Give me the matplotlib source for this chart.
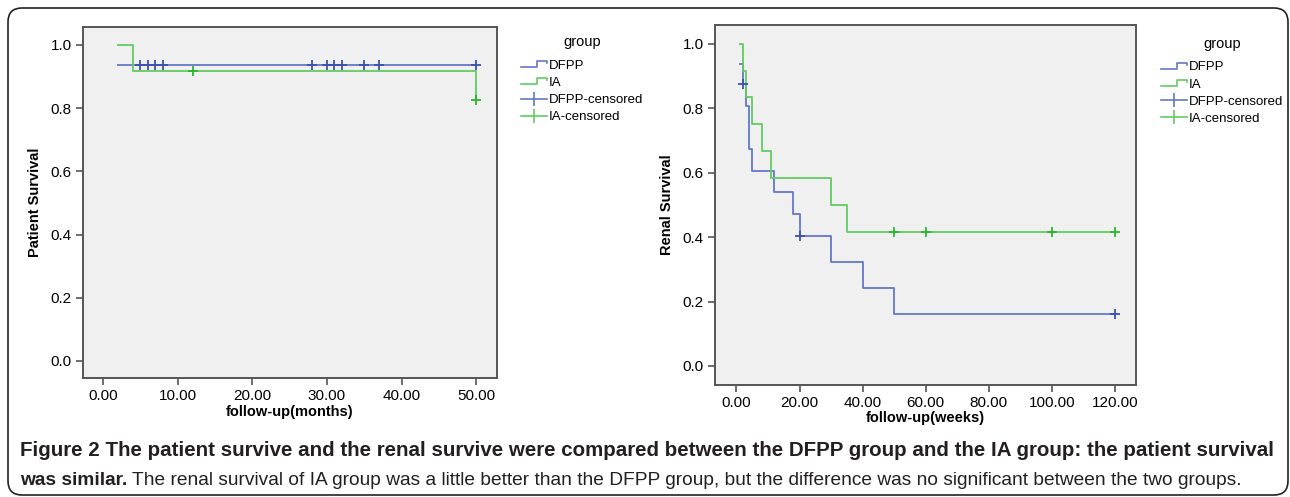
import matplotlib
matplotlib.use("Agg")
import matplotlib.pyplot as plt
from matplotlib.legend_handler import HandlerBase
from matplotlib.lines import Line2D
from matplotlib.patches import FancyBboxPatch

plt.rcParams['font.family'] = ['Liberation Sans', 'DejaVu Sans']

# patient survival (months)
dfpp_pt_t = [2, 50]
dfpp_pt_s = [0.9375, 0.9375]
dfpp_pt_cens_t = [5, 6, 7, 8, 28, 30, 31, 32, 35, 37, 50]
dfpp_pt_cens_s = [0.9375] * 11
ia_pt_t = [2, 4, 50]
ia_pt_s = [1.0, 0.9167, 0.825]
ia_pt_cens_t = [12, 50]
ia_pt_cens_s = [0.9167, 0.825]

# renal survival (weeks)
dfpp_r_t = [1, 2, 3, 4, 5, 12, 18, 20, 30, 40, 50, 120]
dfpp_r_s = [0.9375, 0.875, 0.8077, 0.6731, 0.6058, 0.5385, 0.4712, 0.4039,
            0.3231, 0.2423, 0.1616, 0.1616]
dfpp_r_cens_t = [2, 20, 120]
dfpp_r_cens_s = [0.875, 0.4039, 0.1616]
ia_r_t = [1, 2, 3, 5, 8, 11, 30, 35, 120]
ia_r_s = [1.0, 0.9167, 0.8333, 0.75, 0.6667, 0.5833, 0.5, 0.4167, 0.4167]
ia_r_cens_t = [50, 60, 100, 120]
ia_r_cens_s = [0.4167] * 4

blue = '#6478c6'
green = '#62cc62'
blue_m = '#3c52ad'
green_m = '#2db42d'


class StepHandler(HandlerBase):
    # little step glyph like the SPSS legend
    def create_artists(self, legend, orig_handle, xdescent, ydescent,
                       width, height, fontsize, trans):
        lo = height * 0.2
        hi = height * 0.85
        mid = height * 0.6
        xs = [0, width * 0.6, width * 0.6, width, width]
        ys = [lo, lo, hi, hi, mid]
        ln = Line2D(xs, ys, color=orig_handle.get_color(), lw=1.2, transform=trans)
        return [ln]


def km_panel(ax, d_t, d_s, dc_t, dc_s, i_t, i_s, ic_t, ic_s, leg_y):
    ax.set_facecolor('#f0f0f0')
    d_line, = ax.step(d_t, d_s, where='post', color=blue, lw=1.3)
    i_line, = ax.step(i_t, i_s, where='post', color=green, lw=1.3)
    ax.plot(dc_t, dc_s, ls='none', marker='+', ms=7, mew=1.3, color=blue_m)
    ax.plot(ic_t, ic_s, ls='none', marker='+', ms=7, mew=1.3, color=green_m)
    for s in ax.spines.values():
        s.set_color('#555555')
        s.set_linewidth(1.4)
    ax.tick_params(direction='out', length=5, width=1.2, color='#555555',
                   labelsize=11, pad=3)
    h_dc = Line2D([], [], color=blue, lw=1.2, marker='|', ms=10, mew=1.2)
    h_ic = Line2D([], [], color=green, lw=1.2, marker='|', ms=10, mew=1.2)
    leg = ax.legend([d_line, i_line, h_dc, h_ic],
                    ['DFPP', 'IA', 'DFPP-censored', 'IA-censored'],
                    handler_map={d_line: StepHandler(), i_line: StepHandler()},
                    loc='upper left', bbox_to_anchor=(1.045, leg_y), frameon=False,
                    title='group', fontsize=9.5, title_fontsize=10.5,
                    handlelength=2.0, handletextpad=0.1, labelspacing=0.38,
                    borderaxespad=0)
    leg._legend_box.align = 'center'
    leg._legend_box.sep = 7.2  # a bit more room under the title
    return ax


fig = plt.figure(figsize=(12.9, 4.97), dpi=100)

ax1 = fig.add_axes([0.0643, 0.2394, 0.321, 0.7063])
km_panel(ax1, dfpp_pt_t, dfpp_pt_s, dfpp_pt_cens_t, dfpp_pt_cens_s,
         ia_pt_t, ia_pt_s, ia_pt_cens_t, ia_pt_cens_s, 0.991)
ax1.set_xlim(-2.68, 52.8)
ax1.set_ylim(-0.054, 1.057)
ax1.set_xticks([0, 10, 20, 30, 40, 50])
ax1.set_xticklabels(['0.00', '10.00', '20.00', '30.00', '40.00', '50.00'])
ax1.set_yticks([0, 0.2, 0.4, 0.6, 0.8, 1.0])
ax1.set_yticklabels(['0.0', '0.2', '0.4', '0.6', '0.8', '1.0'])
ax1.set_xlabel('follow-up(months)', fontsize=10.5, fontweight='bold', labelpad=1)
ax1.set_ylabel('Patient Survival', fontsize=10.5, fontweight='bold', labelpad=6)

ax2 = fig.add_axes([0.5543, 0.2254, 0.3267, 0.7243])
km_panel(ax2, dfpp_r_t, dfpp_r_s, dfpp_r_cens_t, dfpp_r_cens_s,
         ia_r_t, ia_r_s, ia_r_cens_t, ia_r_cens_s, 0.981)
ax2.set_xlim(-6.8, 126.8)
ax2.set_ylim(-0.059, 1.058)
ax2.set_xticks([0, 20, 40, 60, 80, 100, 120])
ax2.set_xticklabels(['0.00', '20.00', '40.00', '60.00', '80.00', '100.00', '120.00'])
ax2.set_yticks([0, 0.2, 0.4, 0.6, 0.8, 1.0])
ax2.set_yticklabels(['0.0', '0.2', '0.4', '0.6', '0.8', '1.0'])
ax2.set_xlabel('follow-up(weeks)', fontsize=10.5, fontweight='bold', labelpad=1)
ax2.set_ylabel('Renal Survival', fontsize=10.5, fontweight='bold', labelpad=6)

# outer rounded frame
frame = FancyBboxPatch((0.08, 0.02), 12.8, 4.87, boxstyle='round,pad=0,rounding_size=0.14',
                       transform=fig.dpi_scale_trans, fill=False, ec='#222222', lw=1.2)
fig.add_artist(frame)

# caption
fig.text(0.0155, 0.0825,
         'Figure 2 The patient survive and the renal survive were compared between '
         'the DFPP group and the IA group: the patient survival',
         fontsize=14.8, fontweight='bold', va='baseline', color='#231f20')
t1 = fig.text(0.0155, 0.024, 'was similar.', fontsize=13.8, fontweight='bold',
              va='baseline', color='#231f20')
plt.annotate(' The renal survival of IA group was a little better than the DFPP group, '
             'but the difference was no significant between the two groups.',
             xy=(1, 0), xycoords=t1, va='bottom', ha='left', fontsize=13.8,
             color='#231f20')

fig.savefig('out.png', dpi=100)
